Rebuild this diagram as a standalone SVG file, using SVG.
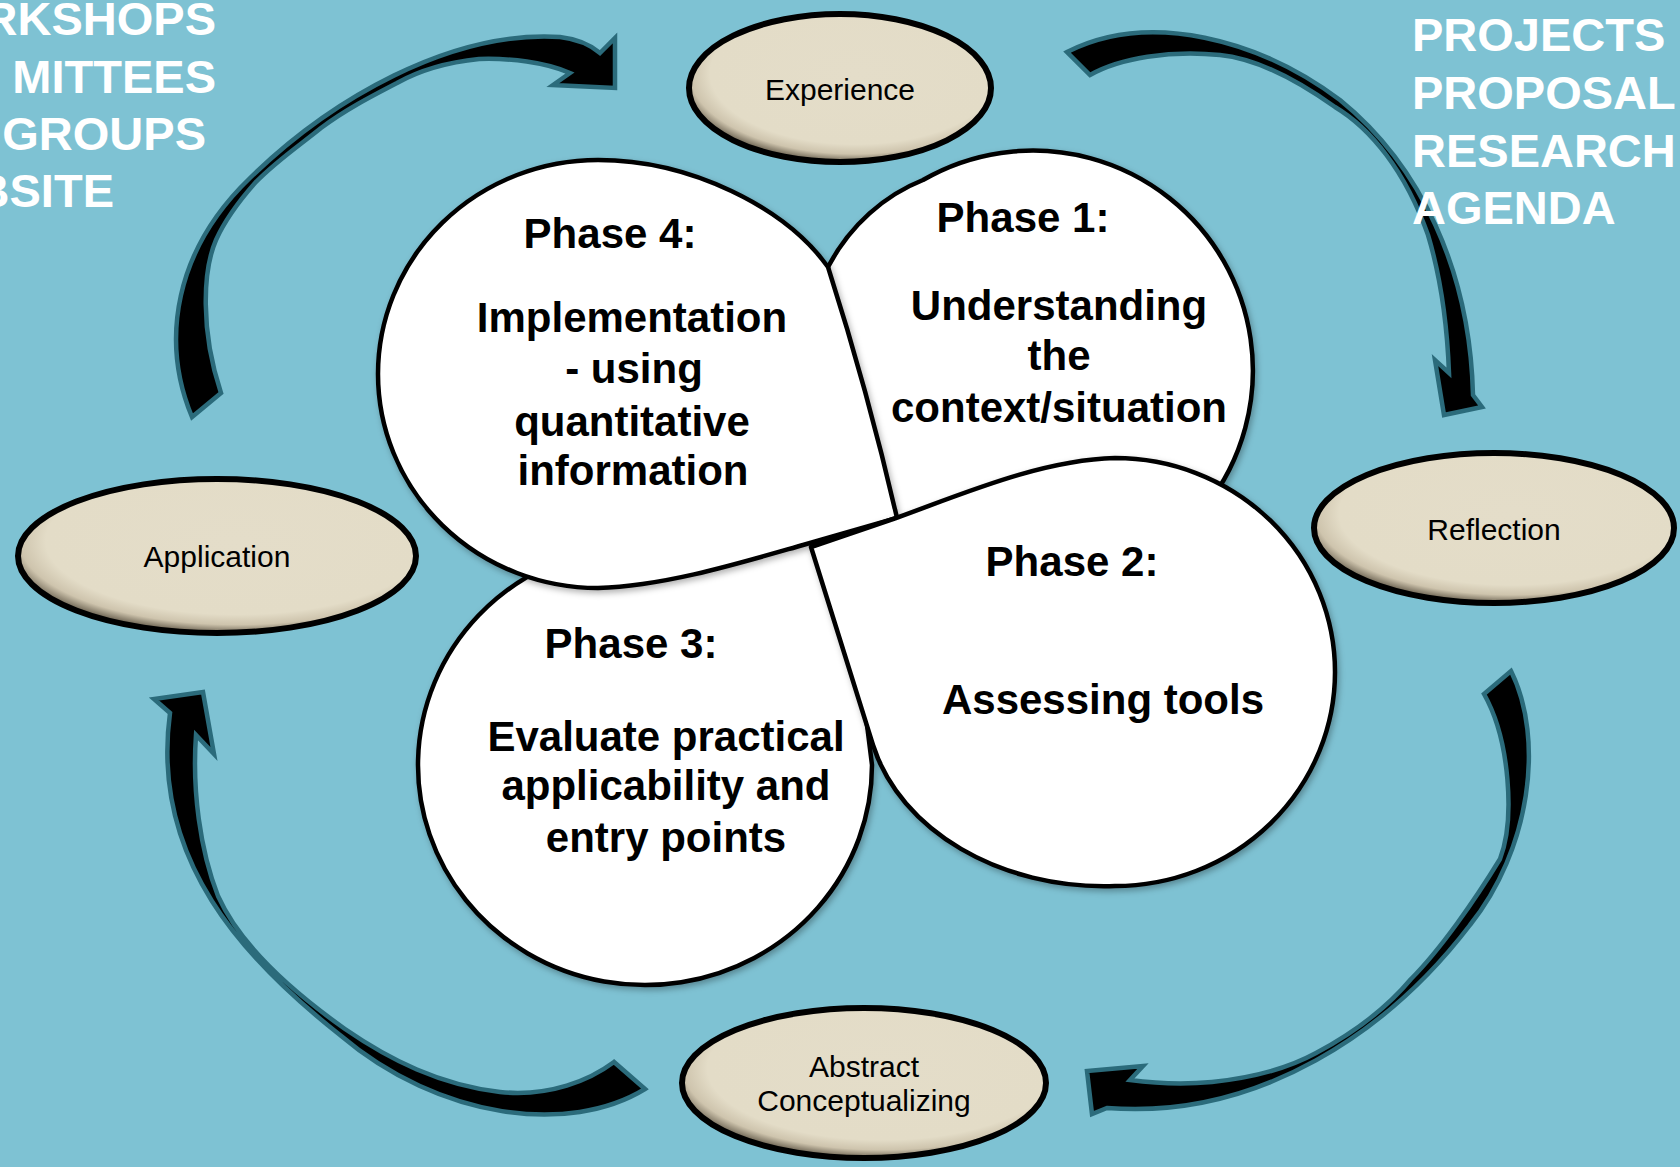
<svg xmlns="http://www.w3.org/2000/svg" width="1680" height="1167" viewBox="0 0 1680 1167">
  <style>
    .arrow { fill: #000; stroke: #2B6B7B; stroke-width: 4.5; stroke-linejoin: miter; }
    .lobe { fill: #fff; stroke: #000; stroke-width: 4.5; stroke-linejoin: round; }
    .oval { fill: url(#ovalGrad); stroke: #000; stroke-width: 6; }
    .ptxt { font-family: "Liberation Sans", Arial, sans-serif; font-weight: bold; font-size: 42px; fill: #000; text-anchor: middle; }
    .otxt { font-family: "Liberation Sans", Arial, sans-serif; font-size: 30px; fill: #000; text-anchor: middle; }
    .side { font-family: "Liberation Sans", Arial, sans-serif; font-weight: bold; font-size: 47px; fill: #fff; }
  </style>
  <defs>
    <radialGradient id="ovalGrad" cx="0.55" cy="0.4" r="0.6">
      <stop offset="0" stop-color="#E4DDC9"/>
      <stop offset="0.8" stop-color="#E3DCC7"/>
      <stop offset="0.91" stop-color="#CEC4AD"/>
      <stop offset="1" stop-color="#6E6554"/>
    </radialGradient>
    <filter id="shadow" x="-10%" y="-10%" width="120%" height="120%">
      <feDropShadow dx="2" dy="3" stdDeviation="3" flood-color="#000" flood-opacity="0.3"/>
    </filter>
  </defs>

  <rect x="0" y="0" width="1680" height="1167" fill="#7EC2D3"/>

  <g id="connectors">
    <path id="arrow-application-experience" class="arrow" d="M 192,417 C 160,340 175,250 250,178 C 330,100 450,30 560,37 Q 585,40 600,53 L 615,38 L 615,88 L 553,85 L 570,73 C 545,62 510,58 479,59 C 450,62 420,70 397,83 C 370,97 345,110 321,128 C 300,145 275,162 255,183 C 240,200 225,220 216,240 C 203,270 200,330 221,393 Z"/>
    <path id="arrow-experience-reflection" class="arrow" d="M 1067,52 C 1150,10 1260,40 1340,100 C 1420,165 1470,270 1473,395 L 1482,407 L 1444,415 L 1435,360 L 1449,373 C 1447,320 1440,275 1428,235 C 1405,170 1370,128 1335,107 C 1290,75 1250,58 1220,55 C 1170,50 1120,58 1090,75 Z"/>
    <path id="arrow-reflection-abstract" class="arrow" d="M 1511,671 C 1545,740 1530,850 1470,925 C 1390,1030 1260,1120 1107,1108 L 1092,1114 L 1087,1071 L 1143,1066 L 1130,1080 C 1160,1084 1190,1084 1212,1082 C 1250,1078 1285,1070 1316,1053 C 1350,1035 1385,1010 1411,979 C 1440,950 1475,900 1500,859 C 1515,820 1510,740 1484,694 Z"/>
    <path id="arrow-abstract-application" class="arrow" d="M 645,1089 C 570,1135 440,1120 340,1035 C 245,960 150,860 170,713 L 154,699 L 203,692 L 214,754 L 196,735 C 192,790 200,850 218,896 C 240,945 290,990 345,1029 C 390,1060 440,1085 500,1092 C 550,1097 590,1080 614,1062 Z"/>
  </g>

  <g id="side-left">
    <text class="side" x="216" y="35" text-anchor="end">RKSHOPS</text>
    <text class="side" x="216" y="93" text-anchor="end">MITTEES</text>
    <text class="side" x="206" y="150" text-anchor="end">GROUPS</text>
    <text class="side" x="114" y="207" text-anchor="end">BSITE</text>
  </g>
  <g id="side-right">
    <text class="side" x="1412" y="51">PROJECTS</text>
    <text class="side" x="1412" y="109">PROPOSAL</text>
    <text class="side" x="1412" y="167">RESEARCH</text>
    <text class="side" x="1412" y="224">AGENDA</text>
  </g>

  <g id="experience">
    <ellipse class="oval" cx="840" cy="88" rx="151" ry="74"/>
    <text class="otxt" x="840" y="100">Experience</text>
  </g>
  <g id="reflection">
    <ellipse class="oval" cx="1494" cy="528" rx="180" ry="75"/>
    <text class="otxt" x="1494" y="540">Reflection</text>
  </g>
  <g id="abstract-conceptualizing">
    <ellipse class="oval" cx="864" cy="1083" rx="182" ry="75"/>
    <text class="otxt" x="864" y="1077">Abstract</text>
    <text class="otxt" x="864" y="1111">Conceptualizing</text>
  </g>
  <g id="application">
    <ellipse class="oval" cx="217" cy="556" rx="199" ry="77"/>
    <text class="otxt" x="217" y="567">Application</text>
  </g>

  <g id="phase1" filter="url(#shadow)">
    <path class="lobe" d="M 828,267 C 850,225 885,195 923,180 A 220 220 0 1 1 842,480 Z"/>
  </g>
  <g id="phase3" filter="url(#shadow)">
    <path class="lobe" d="M 845,548 L 800,540 L 540,570 A 227 220 0 1 0 872,765 Z"/>
  </g>
  <g id="phase4" filter="url(#shadow)">
    <path class="lobe" d="M 897,518 L 803,545 C 740,563 665,586 598,588 A 220 214 0 0 1 598,160 C 690,160 785,207 828,267 Q 868,392 897,518 Z"/>
  </g>
  <g id="phase2" filter="url(#shadow)">
    <path class="lobe" d="M 811,547 L 896,518 C 960,495 1040,460 1115,458 A 220 214 0 0 1 1335,672 A 220 214 0 0 1 1115,886 C 1000,890 900,830 873,745 Z"/>
  </g>

  <g id="phase-labels">
    <g id="phase1-text">
      <text class="ptxt" x="1023" y="232">Phase 1:</text>
      <text class="ptxt" x="1059" y="320">Understanding</text>
      <text class="ptxt" x="1059" y="370">the</text>
      <text class="ptxt" x="1059" y="422">context/situation</text>
    </g>
    <g id="phase2-text">
      <text class="ptxt" x="1072" y="576">Phase 2:</text>
      <text class="ptxt" x="1103" y="714">Assessing tools</text>
    </g>
    <g id="phase3-text">
      <text class="ptxt" x="631" y="658">Phase 3:</text>
      <text class="ptxt" x="666" y="751">Evaluate practical</text>
      <text class="ptxt" x="666" y="800">applicability and</text>
      <text class="ptxt" x="666" y="852">entry points</text>
    </g>
    <g id="phase4-text">
      <text class="ptxt" x="610" y="248">Phase 4:</text>
      <text class="ptxt" x="632" y="332">Implementation</text>
      <text class="ptxt" x="634" y="383">- using</text>
      <text class="ptxt" x="632" y="436">quantitative</text>
      <text class="ptxt" x="633" y="485">information</text>
    </g>
  </g>
</svg>
